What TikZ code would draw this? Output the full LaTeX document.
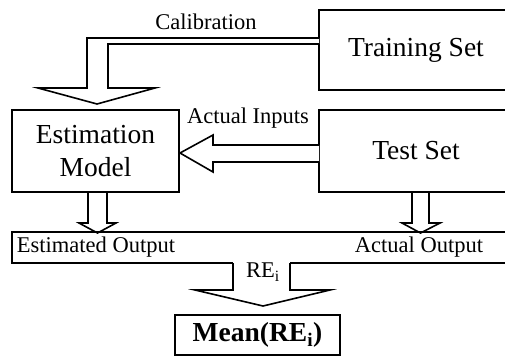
\documentclass[tikz,border=0pt]{standalone}
\usepackage{fontspec}
\setmainfont{Liberation Serif}
\usepackage{xcolor}

\tikzset{
  blk/.style={draw, rectangle, line width=2pt, inner sep=0pt, font=\fontsize{27.5}{33}\selectfont, align=center},
  hollow/.style={draw, line width=1.6pt, fill=white, line join=miter},
  lbl/.style={inner sep=0pt, font=\fontsize{22.5}{26}\selectfont}
}

\begin{document}
\begin{tikzpicture}[x=1pt, y=-1pt]
\useasboundingbox (0,0) rectangle (505,356);
\clip (0,0) rectangle (505,356);

% boxes
\node[blk, minimum width=194pt, minimum height=80pt] at (416,50) (train) {Training Set};
\node[blk, minimum width=194pt, minimum height=82pt] at (416,151) (test) {Test Set};
\node[blk, minimum width=167pt, minimum height=82pt] at (95.5,151) (est) {Estimation\\Model};
\node[blk, minimum width=165pt, minimum height=40pt, font=\fontsize{27.5}{33}\selectfont\bfseries] at (257.5,335) (mean) {Mean(RE\textsubscript{i})};

% hollow arrows
\draw[hollow] (319,38) -- (87,38) -- (87,88) -- (38,88) -- (97,104) -- (155,88)
  -- (108,88) -- (108,44) -- (319,44);
\draw[hollow] (319,145) -- (213,145) -- (213,135) -- (180,153) -- (213,172)
  -- (213,162) -- (319,162);
\draw[hollow] (88,193) -- (88,223) -- (79,223) -- (97.5,233) -- (116,223)
  -- (107,223) -- (107,193);
\draw[hollow] (412,193) -- (412,223) -- (402,223) -- (420.5,233) -- (440,223)
  -- (429,223) -- (429,193);

% output bar with the RE arrow
\draw[line width=2pt] (513,232) -- (12,232) -- (12,263) -- (233,263);
\draw[line width=2pt] (290,263) -- (513,263);
\draw[hollow, fill=none] (233,263) -- (233,290) -- (195,290) -- (263,306) -- (330,290)
  -- (290,290) -- (290,263);

% labels
\node[lbl] at (206,22) (calib) {Calibration};
\node[lbl] at (248,118) (actin) {Actual Inputs};
\node[lbl] at (96,247) (estout) {Estimated Output};
\node[lbl] at (419,247) (actout) {Actual Output};
\node[lbl] at (263,272) (rei) {RE\textsubscript{i}};
\end{tikzpicture}
\end{document}
